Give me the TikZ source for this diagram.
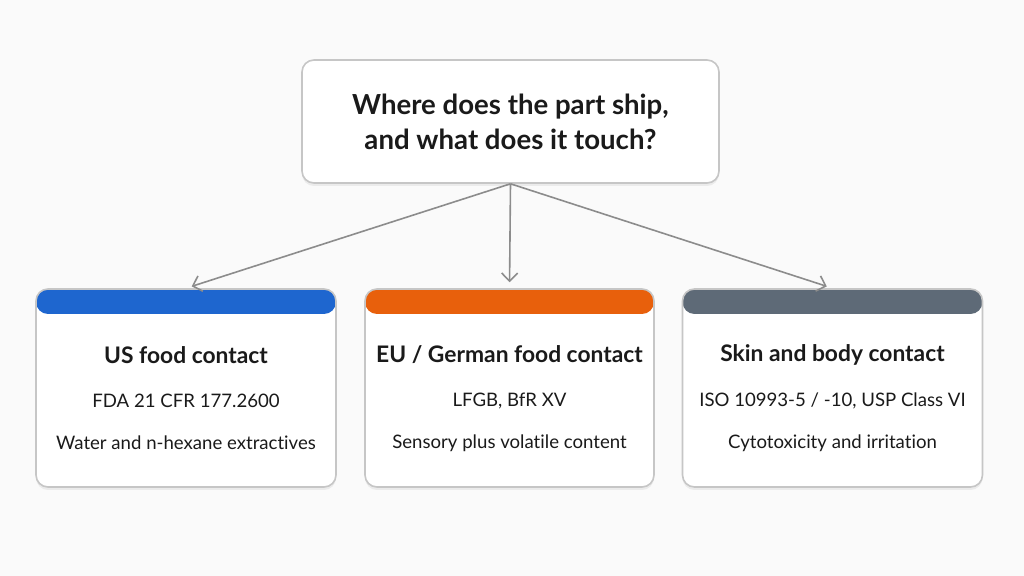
\documentclass[tikz,border=0pt]{standalone}
\usepackage{fontspec}
\setmainfont[Ligatures=NoCommon]{Lato}
\usepackage{xcolor}
\definecolor{pagebg}{HTML}{FAFAFA}
\definecolor{boxline}{HTML}{C6C6C6}
\definecolor{arrowgray}{HTML}{8C8C8C}
\definecolor{inkdark}{HTML}{1A1A1A}
\definecolor{usblue}{HTML}{1E66CF}
\definecolor{euorange}{HTML}{E8600C}
\definecolor{skinslate}{HTML}{5E6A77}
\usetikzlibrary{arrows.meta,positioning,shadows}
\tikzset{
  questionbox/.style={
    rectangle, rounded corners=6pt, draw=boxline, thick, fill=white,
    drop shadow={opacity=0.12, shadow xshift=0pt, shadow yshift=-1.5pt},
    minimum width=208.5pt, minimum height=61.5pt, align=center,
    font=\fontsize{13.8}{17.5}\selectfont\bfseries, text=inkdark
  },
  card/.style={
    rectangle, rounded corners=6pt, draw=boxline, thick, fill=white,
    drop shadow={opacity=0.12, shadow xshift=0pt, shadow yshift=-1.5pt},
    minimum width=150pt, minimum height=99pt,
    path picture={\fill[#1] (path picture bounding box.north west) rectangle
      ([yshift=-12.5pt]path picture bounding box.north east);}
  },
  cardhead/.style={font=\fontsize{11.4}{14}\selectfont\bfseries, text=inkdark},
  cardtext/.style={font=\fontsize{9.3}{11}\selectfont, text=inkdark},
  arrow/.style={-{Straight Barb[length=4pt,width=8pt]}, line width=0.8pt,
    draw=arrowgray, shorten >=3pt}
}
\begin{document}
\begin{tikzpicture}[x=0.5pt,y=-0.5pt]
  \useasboundingbox[fill=pagebg] (0,0) rectangle (1024,576);

  \node[questionbox] (question) at (510.5,121.5)
    {Where does the part ship,\\ and what does it touch?};

  \node[card=usblue] (us) at (186,388) {};
  \node[card=euorange, minimum width=144.5pt] (eu) at (509.5,388) {};
  \node[card=skinslate] (skin) at (832.5,388) {};

  \node[cardhead] (ushead) at (186,355) {US food contact};
  \node[cardtext] (usrule) at (186,401) {FDA 21 CFR 177.2600};
  \node[cardtext] (ustest) at (186,443) {Water and n-hexane extractives};

  \node[cardhead] (euhead) at (509.5,355) {EU / German food contact};
  \node[cardtext] (eurule) at (509.5,401) {LFGB, BfR XV};
  \node[cardtext] (eutest) at (509.5,443) {Sensory plus volatile content};

  \node[cardhead] (skinhead) at (832.5,355) {Skin and body contact};
  \node[cardtext] (skinrule) at (832.5,401) {ISO 10993-5 / -10, USP Class VI};
  \node[cardtext] (skintest) at (832.5,443) {Cytotoxicity and irritation};

  \draw[arrow] (question.south) -- (us.north);
  \draw[arrow] (question.south) -- (eu.north);
  \draw[arrow] (question.south) -- (skin.north);
\end{tikzpicture}
\end{document}
